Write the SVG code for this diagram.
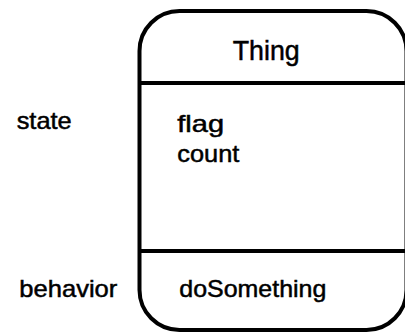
<svg xmlns="http://www.w3.org/2000/svg" width="405" height="332" viewBox="0 0 405 332">
<style>
.box{fill:#fff;stroke:#000;stroke-width:4}
.div{stroke:#000;stroke-width:4;fill:none}
.t{font-family:"Liberation Sans",Arial,sans-serif;font-size:24px;fill:#000;stroke:#000;stroke-width:0.5}
.title{font-family:"Liberation Sans",Arial,sans-serif;font-size:28px;fill:#000;stroke:#000;stroke-width:0.5}
</style>
<rect width="405" height="332" fill="#fff"/>
<g id="thing">
<rect class="box" x="139.5" y="11" width="267" height="319" rx="40" ry="40"/>
<line class="div" x1="139.5" y1="83" x2="406.5" y2="83"/>
<line class="div" x1="139.5" y1="251" x2="406.5" y2="251"/>
<text class="title" x="232.7" y="60" textLength="67" lengthAdjust="spacingAndGlyphs">Thing</text>
<text class="t" x="177.3" y="132" textLength="46.7" lengthAdjust="spacingAndGlyphs">flag</text>
<text class="t" x="177.3" y="162" textLength="62" lengthAdjust="spacingAndGlyphs">count</text>
<text class="t" x="179.3" y="296.7" textLength="147" lengthAdjust="spacingAndGlyphs">doSomething</text>
</g>
<g id="label-state">
<text class="t" x="16.7" y="129" textLength="55" lengthAdjust="spacingAndGlyphs">state</text>
</g>
<g id="label-behavior">
<text class="t" x="19.3" y="296.7" textLength="98" lengthAdjust="spacingAndGlyphs">behavior</text>
</g>
<g id="connectors"/>
</svg>
